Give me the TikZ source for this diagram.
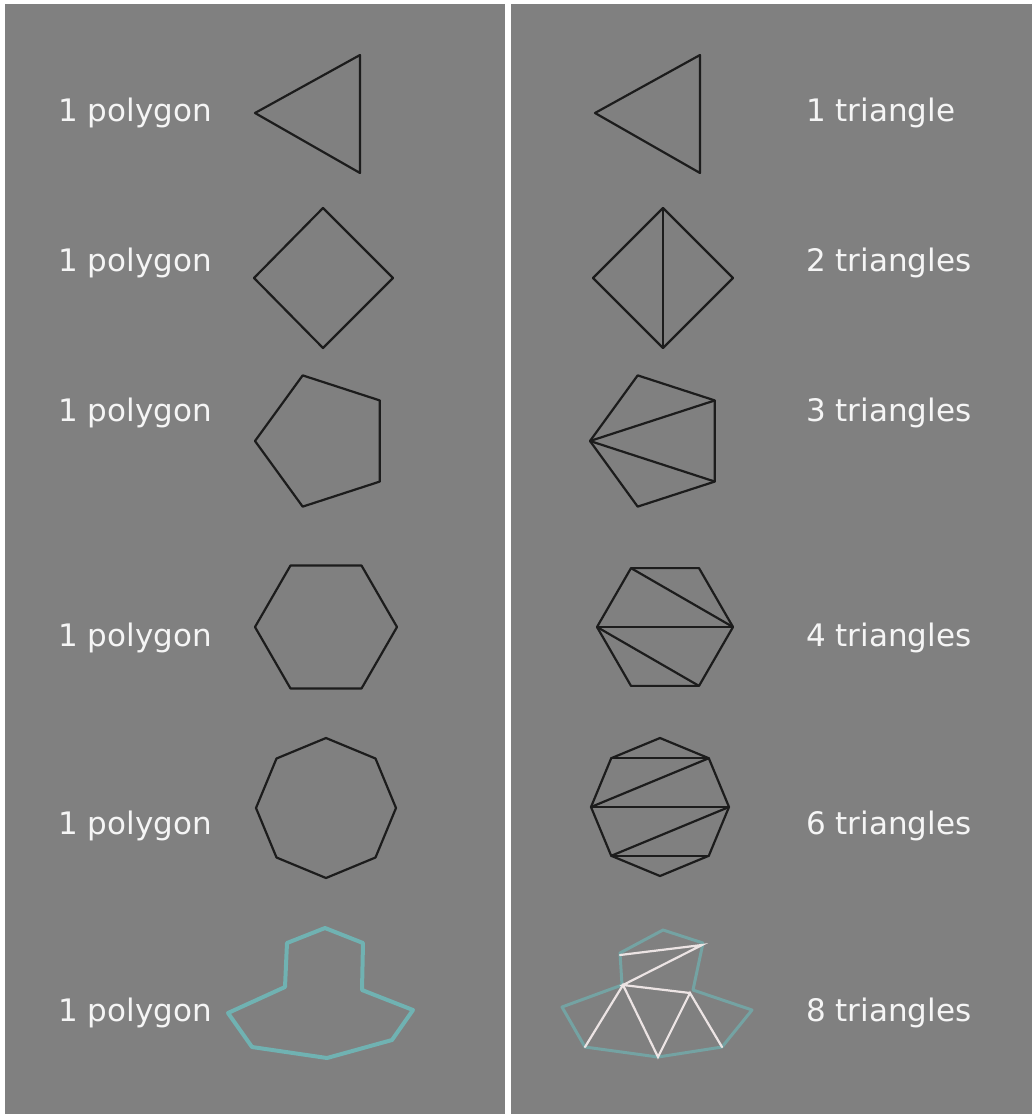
\documentclass[tikz,border=0pt]{standalone}
\usepackage{fontspec}
\setmainfont{DejaVu Sans}
\usetikzlibrary{positioning}
\definecolor{sfondo}{RGB}{128,128,128}
\definecolor{bordo}{RGB}{28,28,28}
\definecolor{ciano}{RGB}{112,178,178}
\definecolor{bianco}{RGB}{236,228,228}
\tikzstyle{etichetta} = [anchor=base west, inner sep=0pt, text=white!96!black, font=\fontsize{31}{37}\selectfont]
\tikzstyle{poligono} = [draw=bordo, line width=2.2pt, line join=round]
\tikzstyle{diagonale} = [draw=bordo, line width=2.2pt]
\tikzstyle{contorno} = [draw=ciano, line width=4pt, line join=round]
\tikzstyle{contornochiaro} = [draw=ciano, line width=3pt, line join=round, opacity=0.7]
\tikzstyle{taglio} = [draw=bianco, line width=2.2pt, line cap=round]

\begin{document}
\begin{tikzpicture}[x=1pt, y=-1pt]

% Sfondo
\useasboundingbox (0,0) rectangle (1032,1114);
\fill[white] (0,0) rectangle (1032,1114);
\fill[sfondo] (5,4) rectangle (1032,1114);
\fill[white] (505,0) rectangle (511,1114);

% Etichette
\node (pol1) [etichetta] at (58,121) {1 polygon};
\node (pol2) [etichetta] at (58,271) {1 polygon};
\node (pol3) [etichetta] at (58,421) {1 polygon};
\node (pol4) [etichetta] at (58,646) {1 polygon};
\node (pol5) [etichetta] at (58,834) {1 polygon};
\node (pol6) [etichetta] at (58,1021) {1 polygon};
\node (tri1) [etichetta] at (806,121) {1 triangle};
\node (tri2) [etichetta] at (806,271) {2 triangles};
\node (tri3) [etichetta] at (806,421) {3 triangles};
\node (tri4) [etichetta] at (806,646) {4 triangles};
\node (tri5) [etichetta] at (806,834) {6 triangles};
\node (tri6) [etichetta] at (806,1021) {8 triangles};

% Triangolo
\draw [poligono] (360,55) -- (255,113) -- (360,173) -- cycle;
\draw [poligono] (700,55) -- (595,113) -- (700,173) -- cycle;

% Rombo
\draw [poligono] (323,208) -- (393,278) -- (323,348) -- (254,278) -- cycle;
\foreach \i in {0,...,3}
  \coordinate (rom\i) at ([shift={(90*\i:70)}]663,278);
\draw [poligono] (rom0) -- (rom1) -- (rom2) -- (rom3) -- cycle;
\draw [diagonale] (rom3) -- (rom1);

% Pentagono
\draw [poligono] ([shift={(180:69)}]324,441)
  \foreach \i in {1,...,4} { -- ([shift={(180+72*\i:69)}]324,441) } -- cycle;
\foreach \i in {0,...,4}
  \coordinate (pen\i) at ([shift={(180+72*\i:69)}]659,441);
\draw [poligono] (pen0) -- (pen1) -- (pen2) -- (pen3) -- (pen4) -- cycle;
\draw [diagonale] (pen0) -- (pen2);
\draw [diagonale] (pen0) -- (pen3);

% Esagono
\draw [poligono] ([shift={(0:71)}]326,627)
  \foreach \i in {1,...,5} { -- ([shift={(60*\i:71)}]326,627) } -- cycle;
\foreach \i in {0,...,5}
  \coordinate (esa\i) at ([shift={(60*\i:68)}]665,627);
\draw [poligono] (esa0) -- (esa1) -- (esa2) -- (esa3) -- (esa4) -- (esa5) -- cycle;
\draw [diagonale] (esa4) -- (esa0);
\draw [diagonale] (esa3) -- (esa0);
\draw [diagonale] (esa3) -- (esa1);

% Ottagono
\draw [poligono] ([shift={(90:70)}]326,808)
  \foreach \i in {1,...,7} { -- ([shift={(90+45*\i:70)}]326,808) } -- cycle;
\foreach \i in {0,...,7}
  \coordinate (ott\i) at ([shift={(90+45*\i:69)}]660,807);
\draw [poligono] (ott0) \foreach \i in {1,...,7} { -- (ott\i) } -- cycle;
\draw [diagonale] (ott3) -- (ott5);
\draw [diagonale] (ott5) -- (ott2);
\draw [diagonale] (ott2) -- (ott6);
\draw [diagonale] (ott6) -- (ott1);
\draw [diagonale] (ott1) -- (ott7);

% Forma libera
\draw [contorno] (325,928) -- (363,943) -- (362,990) -- (413,1010) -- (392,1040)
  -- (327,1058) -- (252,1047) -- (228,1013) -- (285,987) -- (287,943) -- cycle;
\draw [contornochiaro] (663,930) -- (703,943) -- (693,990) -- (752,1010) -- (722,1047)
  -- (658,1057) -- (585,1047) -- (562,1007) -- (622,985) -- (620,953) -- cycle;
\coordinate (t1) at (620,955);
\coordinate (t2) at (702,945);
\coordinate (t3) at (623,985);
\coordinate (t4) at (690,993);
\coordinate (t5) at (585,1047);
\coordinate (t6) at (658,1057);
\coordinate (t7) at (722,1047);
\draw [taglio] (t1) -- (t2) -- (t3) -- (t4);
\draw [taglio] (t5) -- (t3) -- (t6) -- (t4) -- (t7);

\end{tikzpicture}
\end{document}
